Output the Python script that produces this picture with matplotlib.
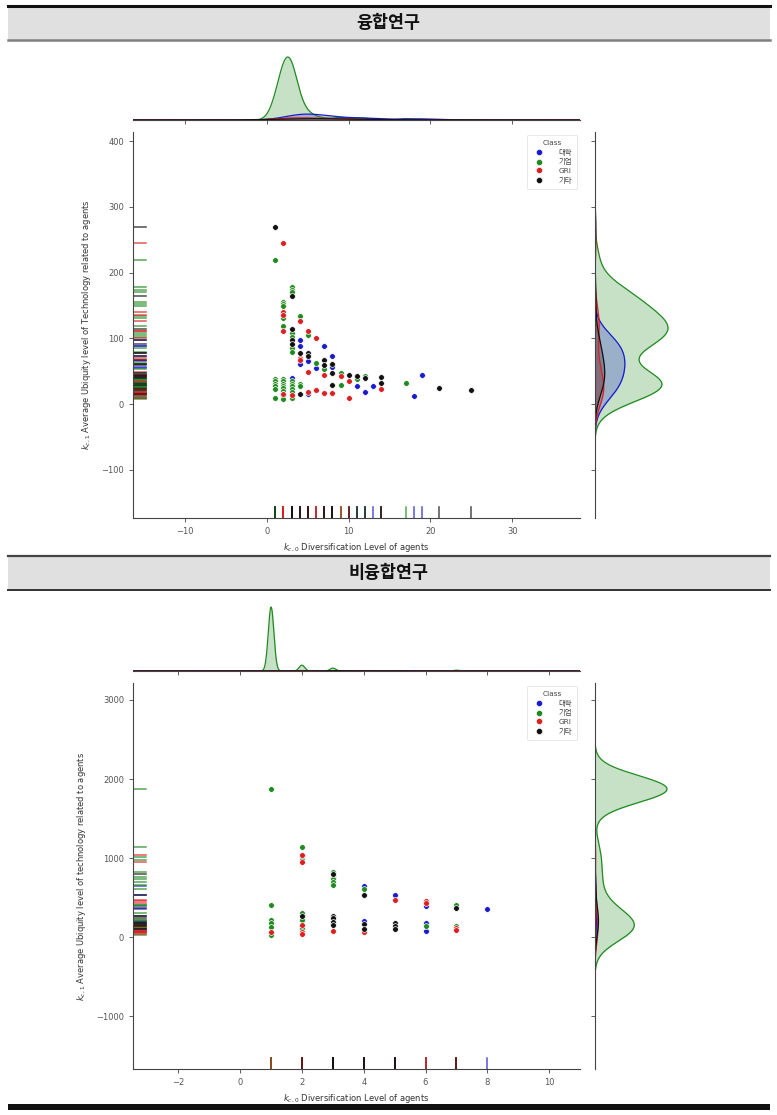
import numpy as np
import matplotlib
matplotlib.use('Agg')
import matplotlib.pyplot as plt
from matplotlib.lines import Line2D
from matplotlib.patches import Rectangle

plt.rcParams['font.family'] = ['DejaVu Sans', 'Noto Sans CJK KR']

classes = ['대학', '기업', 'GRI', '기타']
class_colors = ['#1a1ad0', '#1f8a1f', '#dd1f1f', '#111111']

# ---------------- 융합연구 (convergence research) ----------------
conv_univ_x = [4, 4, 4, 5, 6, 7, 8, 8, 11, 12, 13, 18, 19, 5, 3]
conv_univ_y = [97, 88, 61, 66, 55, 88, 74, 57, 28, 19, 28, 13, 44, 15, 40]
conv_univ_w = [7, 6, 4, 4, 4, 6, 4, 4, 4, 3, 4, 3, 4, 3, 4]

conv_corp_x = [1, 3, 3, 3, 2, 2, 2, 2, 2, 4, 3, 3, 3, 3, 5, 6, 7, 9, 9, 11, 12, 17,
               1, 1, 1, 1, 1, 1, 2, 2, 2, 2, 2, 2, 2, 2, 2, 3, 3, 3, 3, 3, 3, 4, 4]
conv_corp_y = [220, 178, 174, 170, 156, 153, 149, 131, 119, 134, 109, 103, 86, 79, 106, 63, 53, 48, 29, 38, 43, 32,
               39, 35, 31, 28, 23, 10, 39, 35, 31, 28, 24, 20, 16, 12, 8, 35, 31, 28, 23, 18, 10, 31, 27]
conv_corp_w = [4, 6, 6, 6, 8, 8, 8, 14, 16, 12, 16, 16, 12, 10, 10, 3, 3, 3, 3, 3, 3, 3,
               3, 3, 3, 3, 3, 3, 3, 3, 3, 3, 3, 3, 3, 3, 3, 3, 3, 3, 3, 3, 3, 3, 3]

conv_gri_x = [2, 2, 2, 2, 4, 4, 4, 5, 5, 6, 6, 7, 7, 8, 9, 10, 10, 14, 5, 2, 3]
conv_gri_y = [245, 141, 136, 111, 126, 71, 67, 111, 49, 100, 22, 45, 17, 17, 43, 36, 10, 23, 18, 15, 14]
conv_gri_w = [1] * 21

conv_etc_x = [1, 3, 3, 3, 3, 4, 5, 5, 7, 7, 8, 8, 8, 10, 11, 12, 14, 14, 21, 25, 4]
conv_etc_y = [269, 164, 114, 98, 92, 78, 78, 73, 68, 60, 61, 48, 30, 45, 43, 40, 41, 33, 24, 22, 15]
conv_etc_w = [1] * 21

# ---------------- 비융합연구 (non-convergence research) ----------------
non_univ_x = [4, 4, 5, 6, 6, 6, 8]
non_univ_y = [650, 206, 532, 392, 181, 72, 350]
non_univ_w = [1] * 7

non_corp_x = [1, 1, 1, 1, 1, 1, 1, 2, 2, 2, 2, 2, 2, 3, 3, 3, 3, 3, 4, 6, 7, 7]
non_corp_y = [1873, 401, 215, 181, 123, 50, 25, 1135, 1009, 975, 300, 215, 110, 827, 764, 730, 700, 658, 603, 143, 405, 143]
non_corp_w = [210, 20, 20, 20, 20, 20, 20, 5, 5, 5, 5, 5, 5, 3, 3, 3, 3, 3, 2, 2, 2, 2]

non_gri_x = [1, 2, 2, 2, 2, 2, 3, 4, 5, 6, 6, 7, 7]
non_gri_y = [67, 1038, 950, 152, 59, 34, 80, 59, 468, 460, 435, 114, 84]
non_gri_w = [1] * 13

non_etc_x = [2, 3, 3, 3, 3, 3, 4, 4, 4, 5, 5, 5, 7]
non_etc_y = [266, 797, 270, 236, 194, 152, 532, 165, 97, 181, 143, 101, 371]
non_etc_w = [1] * 13

conv_xticks = [-10, 0, 10, 20, 30]
conv_yticks = [-100, 0, 100, 200, 300, 400]
non_xticks = [-2, 0, 2, 4, 6, 8, 10]
non_yticks = [-1000, 0, 1000, 2000, 3000]

xlabel = r'$k_{c,0}$ Diversification Level of agents'
conv_ylabel = r'$k_{c,1}$ Average Ubiquity level of Technology related to agents'
non_ylabel = r'$k_{c,1}$ Average Ubiquity level of technology related to agents'

W, H = 777, 1115
fig = plt.figure(figsize=(W / 100, H / 100), dpi=100)


def fx(px):
    return px / W


def fy(py):
    return 1 - py / H


def rect(x0, y0, x1, y1):
    return [fx(x0), fy(y1), fx(x1) - fx(x0), fy(y0) - fy(y1)]


def kde(vals, w, grid, adjust=1.0, bw=None):
    vals = np.asarray(vals, float)
    w = np.asarray(w, float)
    n = w.sum()
    if bw is None:
        m = np.average(vals, weights=w)
        sd = np.sqrt(np.average((vals - m) ** 2, weights=w))
        h = adjust * sd * n ** (-0.2)
    else:
        h = bw
    d = (w[:, None] * np.exp(-0.5 * ((grid[None, :] - vals[:, None]) / h) ** 2)).sum(0)
    return d / (h * np.sqrt(2 * np.pi))


def header(y0, y1, text, top_color, top_lw, bot_color, bot_lw):
    fig.patches.append(Rectangle((fx(8), fy(y1)), fx(770) - fx(8), fy(y0) - fy(y1),
                                 transform=fig.transFigure, facecolor='#e0e0e0', edgecolor='none'))
    fig.lines.append(Line2D([fx(8), fx(770)], [fy(y0), fy(y0)], transform=fig.transFigure,
                            color=top_color, lw=top_lw))
    fig.lines.append(Line2D([fx(8), fx(770)], [fy(y1), fy(y1)], transform=fig.transFigure,
                            color=bot_color, lw=bot_lw))
    fig.text(0.5, fy((y0 + y1) / 2), text, ha='center', va='center', fontsize=12.5,
             fontweight='bold', family=['Noto Sans CJK KR'], color='#111111')


def joint(top, data, xlim, ylim, xticks, yticks, ylab, adj_x, bw_y, peak_top_px, peak_right_px):
    main_top, main_bot = top + 82, top + 468
    ax = fig.add_axes(rect(133, main_top, 580, main_bot))
    axt = fig.add_axes(rect(133, top, 580, top + 70))
    axr = fig.add_axes(rect(595, main_top, 705, main_bot))

    # scatter
    for (xs, ys, ws), col in zip(data, class_colors):
        ax.scatter(xs, ys, s=17, color=col, edgecolor='white', linewidth=0.5, zorder=3)
    # rugs
    for (xs, ys, ws), col in zip(data, class_colors):
        for xv in xs:
            ax.plot([xv, xv], [0, 0.028], color=col, lw=1.1, alpha=0.75,
                    transform=ax.get_xaxis_transform(), zorder=2)
        for yv in ys:
            ax.plot([0, 0.03], [yv, yv], color=col, lw=1.1, alpha=0.75,
                    transform=ax.get_yaxis_transform(), zorder=2)

    ax.set_xlim(*xlim)
    ax.set_ylim(*ylim)
    ax.set_xticks(xticks)
    ax.set_yticks(yticks)
    ax.set_xlabel(xlabel, fontsize=6, color='#333333', labelpad=4)
    ax.set_ylabel(ylab, fontsize=6, color='#333333', labelpad=6)
    for a in (ax, axt, axr):
        for s in a.spines.values():
            s.set_color('#444444')
            s.set_linewidth(0.8)
        a.tick_params(labelsize=6, colors='#444444', length=3, width=0.6, labelcolor='#555555')
    ax.spines['top'].set_visible(False)
    ax.spines['right'].set_visible(False)

    handles = [Line2D([], [], marker='o', ls='none', markersize=4.4, markerfacecolor=c,
                      markeredgecolor='white', markeredgewidth=0.4) for c in class_colors]
    leg = ax.legend(handles, classes, title='Class', loc='upper right', fontsize=5.3,
                    title_fontsize=5.3, frameon=True, borderpad=0.7, labelspacing=0.35,
                    handletextpad=1.6, borderaxespad=0.4)
    leg.get_frame().set_edgecolor('#dddddd')
    leg.get_frame().set_linewidth(0.6)
    for t in leg.get_texts():
        t.set_color('#444444')
    leg.get_title().set_color('#444444')

    # marginal KDEs (common normalisation)
    total = sum(np.sum(d[2]) for d in data)
    gx = np.linspace(xlim[0], xlim[1], 800)
    gy = np.linspace(ylim[0], ylim[1], 800)
    dens_x = [kde(d[0], d[2], gx, adjust=adj_x) / total for d in data]
    dens_y = [kde(d[1], d[2], gy, bw=bw_y) / total for d in data]
    order = [1, 0, 2, 3]
    for i in order:
        col = class_colors[i]
        axt.fill_between(gx, 0, dens_x[i], color=col, alpha=0.25, lw=0)
        axt.plot(gx, dens_x[i], color=col, lw=0.9)
        axr.fill_betweenx(gy, 0, dens_y[i], color=col, alpha=0.25, lw=0)
        axr.plot(dens_y[i], gy, color=col, lw=0.9)
    mx = max(d.max() for d in dens_x)
    my = max(d.max() for d in dens_y)
    axt.set_xlim(*xlim)
    axt.set_ylim(0, mx * 70 / (top + 70 - peak_top_px))
    axr.set_ylim(*ylim)
    axr.set_xlim(0, my * 110 / (peak_right_px - 595))
    axt.set_xticks(xticks)
    axr.set_yticks(yticks)
    axt.tick_params(labelbottom=False, left=False, labelleft=False)
    axr.tick_params(labelleft=False, bottom=False, labelbottom=False)
    for s in ('top', 'right', 'left'):
        axt.spines[s].set_visible(False)
    for s in ('top', 'right', 'bottom'):
        axr.spines[s].set_visible(False)
    axt.patch.set_alpha(0)
    axr.patch.set_alpha(0)


header(6, 40, '융합연구', '#111111', 2.2, '#808080', 1.8)
header(556, 590, '비융합연구', '#444444', 1.6, '#333333', 1.4)
fig.patches.append(Rectangle((fx(8), fy(1110)), fx(770) - fx(8), fy(1104) - fy(1110),
                             transform=fig.transFigure, facecolor='#111111', edgecolor='none'))

conv_data = [(conv_univ_x, conv_univ_y, conv_univ_w), (conv_corp_x, conv_corp_y, conv_corp_w),
             (conv_gri_x, conv_gri_y, conv_gri_w), (conv_etc_x, conv_etc_y, conv_etc_w)]
non_data = [(non_univ_x, non_univ_y, non_univ_w), (non_corp_x, non_corp_y, non_corp_w),
            (non_gri_x, non_gri_y, non_gri_w), (non_etc_x, non_etc_y, non_etc_w)]

joint(50, conv_data, (-16.4, 38.3), (-173, 414), conv_xticks, conv_yticks, conv_ylabel,
      1.0, 22, 57, 668)
joint(601, non_data, (-3.47, 11.0), (-1670, 3215), non_xticks, non_yticks, non_ylabel,
      0.35, 170, 607, 667)

fig.savefig('out.png', dpi=100)
